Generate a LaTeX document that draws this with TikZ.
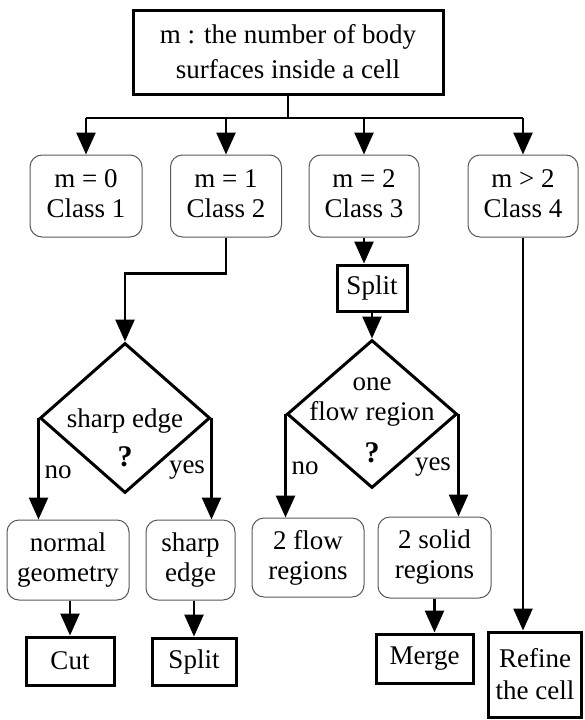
\documentclass[tikz,border=0pt]{standalone}
\usepackage{fontspec}
\setmainfont{Liberation Serif}
\usetikzlibrary{arrows.meta,shapes.geometric}
\begin{document}
\begin{tikzpicture}[x=1pt,y=1pt,
  base/.style={font=\fontsize{27}{32}\selectfont, align=center, inner sep=0pt},
  thickbox/.style={base, draw, line width=3pt, rectangle},
  roundbox/.style={base, font=\fontsize{27}{30}\selectfont, draw=black!65, line width=1pt, rounded corners=12pt},
  dia/.style={draw, line width=3pt, diamond, minimum width=170pt, minimum height=150pt, inner sep=0pt},
  conn/.style={line width=2.6pt},
  arr/.style={conn, -{Triangle[length=22pt,width=19pt]}},
  lbl/.style={font=\fontsize{27}{32}\selectfont, inner sep=0pt},
  qm/.style={font=\fontsize{30}{32}\selectfont\bfseries, inner sep=0pt}
]
\useasboundingbox (0,0) rectangle (584,-720);
% top
\node[thickbox, font=\fontsize{27}{35}\selectfont, minimum width=310pt, minimum height=84pt] (top) at (288,-52) {m : the number of body\\surfaces inside a cell};
% classes
\node[roundbox, minimum width=112pt, minimum height=82pt] (c1) at (86,-196) {m = 0\\Class 1\rule[-4pt]{0pt}{4pt}};
\node[roundbox, minimum width=111pt, minimum height=82pt] (c2) at (226,-196) {m = 1\\Class 2\rule[-4pt]{0pt}{4pt}};
\node[roundbox, minimum width=110pt, minimum height=82pt] (c3) at (364,-196) {m = 2\\Class 3\rule[-4pt]{0pt}{4pt}};
\node[roundbox, minimum width=110pt, minimum height=82pt] (c4) at (523,-196) {m > 2\\Class 4\rule[-4pt]{0pt}{4pt}};
\coordinate (bus) at (0,-118);
\draw[conn] (top.south) -- (top.south |- bus);
\draw[conn] (c1.north |- bus) -- (c4.north |- bus);
\foreach \c in {c1,c2,c3,c4} \draw[arr] (\c.north |- bus) -- (\c.north);
% left branch
\node[dia] (d1) at (125,-418) {};
\node[lbl] (d1t) at (125,-421) {sharp edge};
\node[qm] (d1q) at (125,-457) {?};
\draw[arr] (c2.south) -- ++(0,-36) -| (d1.north);
\node[roundbox, minimum width=122pt, minimum height=80pt] (n1) at (68,-560) {normal\\geometry};
\node[roundbox, minimum width=89pt, minimum height=80pt] (s1) at (190.5,-560) {sharp\\edge};
\draw[arr] (d1.west) -- (d1.west |- n1.north);
\draw[arr] (d1.east) -- (d1.east |- s1.north);
\node[lbl] (no1) at (58,-472) {no};
\node[lbl] (yes1) at (187,-470) {yes};
\node[thickbox, minimum width=88pt, minimum height=48pt] (cut) at (70,-661) {Cut};
\node[thickbox, minimum width=84pt, minimum height=47pt] (sp2) at (194,-661.5) {Split};
\draw[arr] (n1.south -| cut.north) -- (cut.north);
\draw[arr] (s1.south -| sp2.north) -- (sp2.north);
% middle branch
\node[thickbox, minimum width=70pt, minimum height=46pt] (sp1) at (372,-288) {Split};
\draw[arr] (c3.south) -- (c3.south |- sp1.north);
\node[dia, minimum height=148pt] (d2) at (372,-414) {};
\node[lbl, align=center, font=\fontsize{27}{30}\selectfont] (d2t) at (372,-402) {one\\flow region};
\node[qm] (d2q) at (372,-453) {?};
\draw[arr] (sp1.south) -- (d2.north);
\node[roundbox, minimum width=112pt, minimum height=79pt] (f2) at (308,-557.5) {2 flow\\regions};
\node[roundbox, minimum width=113pt, minimum height=81pt] (so2) at (434.5,-557.5) {2 solid\\regions};
\draw[arr] (d2.west) -- (d2.west |- f2.north);
\draw[arr] (d2.east) -- (d2.east |- so2.north);
\node[lbl] (no2) at (305,-468) {no};
\node[lbl] (yes2) at (433,-467) {yes};
\node[thickbox, minimum width=97pt, minimum height=49pt] (mer) at (424.5,-658.5) {Merge};
\draw[arr] (so2.south) -- (so2.south |- mer.north);
% right branch
\node[thickbox, minimum width=93pt, minimum height=85pt] (ref) at (535,-674.5) {Refine\\the cell};
\draw[arr] (c4.south) -- (c4.south |- ref.north);
\end{tikzpicture}
\end{document}
